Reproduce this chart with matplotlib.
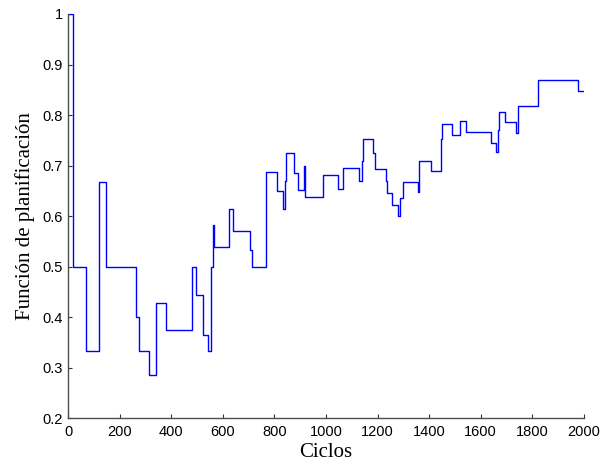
import numpy as np
import matplotlib
matplotlib.use("Agg")
import matplotlib.pyplot as plt
from matplotlib.ticker import FuncFormatter

# inicio de cada tramo (ciclo) y valor de la funcion en ese tramo
cycle_start = [0, 17, 68, 120, 147, 263, 275, 312, 339, 378,
               479, 497, 522, 544, 555, 560, 564, 623, 640, 705,
               711, 769, 808, 835, 841, 845, 875, 892, 915, 919,
               987, 1046, 1067, 1127, 1139, 1145, 1183, 1192, 1234, 1238,
               1256, 1279, 1288, 1299, 1355, 1362, 1406, 1445, 1448, 1451,
               1487, 1521, 1543, 1640, 1660, 1669, 1673, 1696, 1737, 1744,
               1821, 1978]
level = [1.0, 0.5, 0.333, 0.667, 0.5, 0.4, 0.333, 0.286, 0.429, 0.375,
         0.5, 0.444, 0.364, 0.333, 0.5, 0.583, 0.538, 0.615, 0.571, 0.533,
         0.5, 0.6875, 0.65, 0.614, 0.67, 0.724, 0.686, 0.652, 0.70, 0.638,
         0.682, 0.654, 0.696, 0.669, 0.71, 0.752, 0.724, 0.694, 0.669, 0.645,
         0.622, 0.60, 0.636, 0.668, 0.648, 0.709, 0.69, 0.72, 0.752, 0.783,
         0.76, 0.789, 0.766, 0.745, 0.726, 0.77, 0.806, 0.786, 0.765, 0.818,
         0.869, 0.848]
last_cycle = 2000

x_ticks = list(range(0, 2001, 200))
y_ticks = [0.2, 0.3, 0.4, 0.5, 0.6, 0.7, 0.8, 0.9, 1.0]

x = cycle_start + [last_cycle]
y = level + [level[-1]]

fig = plt.figure(figsize=(6.12, 4.65), dpi=100)
ax = fig.add_axes([0.1116, 0.1004, 0.8422, 0.8695])
ax.plot(x, y, drawstyle="steps-post", color="#0000ff", lw=1.0)

ax.set_xlim(0, 2000)
ax.set_ylim(0.2, 1.0)
ax.set_xticks(x_ticks)
ax.set_yticks(y_ticks)
ax.yaxis.set_major_formatter(FuncFormatter(lambda v, p: "%g" % v))

for s in ["top", "right"]:
    ax.spines[s].set_visible(False)
for s in ["left", "bottom"]:
    ax.spines[s].set_color("0.3")
    ax.spines[s].set_linewidth(1.0)

ax.tick_params(direction="in", length=3, width=0.8, color="0.2",
               labelsize=10.5)
ax.tick_params(axis="x", pad=5)
ax.tick_params(axis="y", pad=4)
for lab in ax.get_xticklabels() + ax.get_yticklabels():
    lab.set_fontfamily("Liberation Sans")

ax.set_xlabel("Ciclos", family="Liberation Serif", fontsize=15, labelpad=3)
ax.set_ylabel("Función de planificación", family="Liberation Serif",
              fontsize=15, labelpad=5)

fig.savefig("out.png", dpi=100)
